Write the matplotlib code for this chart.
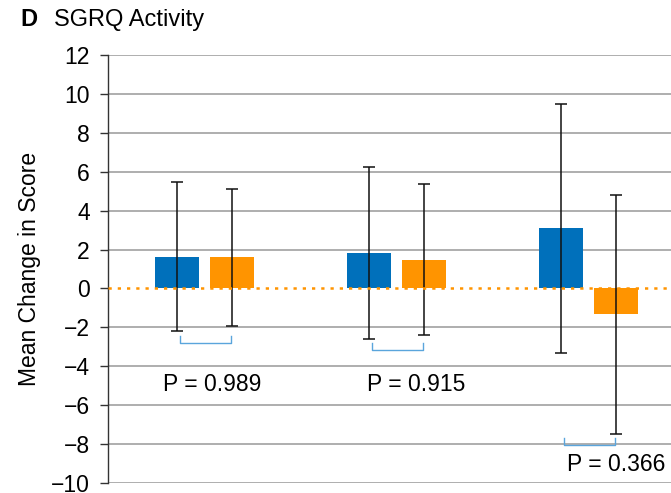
import matplotlib
matplotlib.use("Agg")
import matplotlib.pyplot as plt
import numpy as np

plt.rcParams['font.family'] = ['Liberation Sans', 'DejaVu Sans']

# SGRQ Activity, mean change in score with 95% CI
groups = ['Group 1', 'Group 2', 'Group 3']
blue_mean = [1.62, 1.83, 3.10]
blue_low = [-2.20, -2.60, -3.33]
blue_high = [5.49, 6.26, 9.49]
orange_mean = [1.62, 1.47, -1.31]
orange_low = [-1.91, -2.39, -7.48]
orange_high = [5.13, 5.36, 4.81]
p_values = ['0.989', '0.915', '0.366']

BLUE = '#0070BB'
ORANGE = '#FF9400'
BRACKET = '#5AA5DC'

fig = plt.figure(figsize=(6.71, 4.93), dpi=100)
ax = fig.add_axes([108 / 671, 10 / 493, 1 - 108 / 671, (483 - 55) / 493])

x = np.arange(len(groups))
off = 0.143
width = 0.229

blue_mean = np.array(blue_mean)
orange_mean = np.array(orange_mean)
blue_err = [blue_mean - np.array(blue_low), np.array(blue_high) - blue_mean]
orange_err = [orange_mean - np.array(orange_low), np.array(orange_high) - orange_mean]

ax.bar(x - off, blue_mean, width, color=BLUE, zorder=3)
ax.bar(x + off, orange_mean, width, color=ORANGE, zorder=3)
ax.errorbar(x - off, blue_mean, yerr=blue_err, fmt='none', ecolor='#111111',
            elinewidth=1.1, capsize=4, capthick=1.1, zorder=4)
ax.errorbar(x + off, orange_mean, yerr=orange_err, fmt='none', ecolor='#111111',
            elinewidth=1.1, capsize=4, capthick=1.1, zorder=4)

# zero reference line (replaces the gray gridline at 0)
ax.axhline(0, color=ORANGE, linestyle=(0, (1.3, 2.4)), linewidth=1.8, zorder=5)

# brackets and p-values
text_dx = [0.04, 0.10, 0.14]
text_y = [-4.96, -4.96, -9.07]
for i, p in enumerate(p_values):
    lo = min(blue_low[i], orange_low[i])
    top = lo - 0.22
    bot = lo - 0.58
    ax.plot([x[i] - 0.13, x[i] - 0.13, x[i] + 0.138, x[i] + 0.138],
            [top, bot, bot, top], color=BRACKET, linewidth=1.0, zorder=4)
    ax.text(x[i] + text_dx[i], text_y[i], f'P = {p}', ha='center', va='center',
            fontsize=16.5)

ax.set_ylim(-10, 12)
ax.set_xlim(-0.504, 2.428)
yticks = np.arange(-10, 13, 2)
ax.set_yticks(yticks)
ax.set_yticklabels([str(v).replace('-', '\u2212') for v in yticks])
ax.set_xticks([])
ax.yaxis.grid(True, color='#a8a8a8', linewidth=1.3, zorder=0)
for tick_val, gl in zip(yticks, ax.get_ygridlines()):
    if tick_val == 0:
        gl.set_visible(False)
ax.set_axisbelow(True)
for s in ['top', 'right', 'bottom']:
    ax.spines[s].set_visible(False)
ax.spines['left'].set_color('#333333')
ax.spines['left'].set_linewidth(1.0)
ax.tick_params(axis='y', length=6, width=1.0, color='#333333', pad=7,
               labelsize=16.5)
ax.set_ylabel('Mean Change in Score', fontsize=16.5, labelpad=7)

fig.text(20 / 671, 1 - 20 / 493, 'D', fontsize=17, fontweight='bold',
         va='center', ha='left')
fig.text(54 / 671, 1 - 20 / 493, 'SGRQ Activity', fontsize=17,
         va='center', ha='left')

fig.savefig('out.png', dpi=100)
